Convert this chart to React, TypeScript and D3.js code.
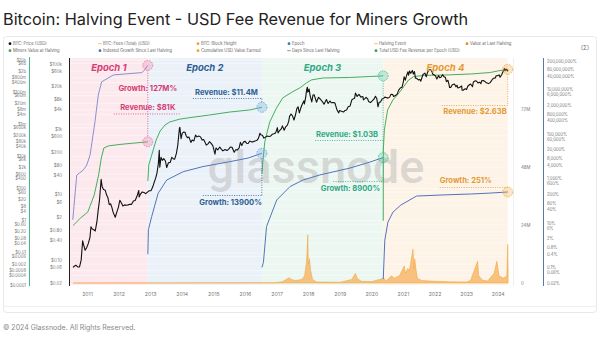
import React from "react";
import * as d3 from "d3";

// ---------------- DATA ----------------
const priceData: [string, number][] = [
["2010-07-18",0.06],["2010-08-01",0.065],["2010-08-20",0.07],["2010-09-10",0.062],["2010-10-01",0.062],["2010-10-20",0.10],["2010-11-06",0.39],["2010-11-20",0.28],["2010-12-05",0.20],["2010-12-25",0.25],
["2011-01-10",0.32],["2011-01-30",0.50],["2011-02-10",1.05],["2011-02-25",0.90],["2011-03-15",0.85],["2011-04-01",0.78],["2011-04-20",1.5],["2011-05-05",3.4],["2011-05-20",6.8],["2011-06-08",29.6],["2011-06-20",17.5],["2011-07-05",14.5],["2011-07-25",13.8],["2011-08-10",9.8],["2011-08-25",8.2],["2011-09-10",5.0],["2011-09-25",5.3],["2011-10-10",4.1],["2011-10-25",2.9],["2011-11-18",2.05],["2011-12-05",2.9],["2011-12-25",4.2],
["2012-01-10",6.8],["2012-01-25",5.8],["2012-02-15",4.5],["2012-03-05",4.9],["2012-03-25",4.8],["2012-04-15",4.9],["2012-05-05",5.1],["2012-05-25",5.1],["2012-06-15",6.4],["2012-07-05",6.7],["2012-07-25",8.8],["2012-08-16",13.5],["2012-08-20",8.5],["2012-09-05",10.5],["2012-09-25",12.2],["2012-10-15",11.8],["2012-11-05",10.8],["2012-11-28",12.3],["2012-12-15",13.3],
["2013-01-05",13.4],["2013-01-25",17.5],["2013-02-10",24],["2013-02-28",33],["2013-03-15",47],["2013-03-31",93],["2013-04-10",230],["2013-04-16",70],["2013-04-30",140],["2013-05-15",113],["2013-06-01",128],["2013-06-20",108],["2013-07-05",68],["2013-07-25",95],["2013-08-15",98],["2013-09-01",140],["2013-09-20",125],["2013-10-05",123],["2013-10-25",185],["2013-11-10",330],["2013-11-20",620],["2013-11-30",1130],["2013-12-04",1150],["2013-12-18",520],["2013-12-31",750],
["2014-01-15",830],["2014-02-01",820],["2014-02-15",640],["2014-03-01",560],["2014-03-20",580],["2014-04-10",400],["2014-04-25",470],["2014-05-15",445],["2014-06-03",670],["2014-06-20",590],["2014-07-10",625],["2014-07-30",590],["2014-08-18",470],["2014-09-05",490],["2014-09-22",400],["2014-10-05",330],["2014-10-25",360],["2014-11-12",420],["2014-12-01",375],["2014-12-20",320],
["2015-01-14",175],["2015-01-25",270],["2015-02-15",235],["2015-03-10",290],["2015-03-30",245],["2015-04-15",220],["2015-05-10",242],["2015-06-01",225],["2015-06-20",245],["2015-07-10",290],["2015-07-30",285],["2015-08-24",200],["2015-09-10",238],["2015-09-30",236],["2015-10-20",270],["2015-11-04",400],["2015-11-20",320],["2015-12-10",415],["2015-12-30",430],
["2016-01-15",375],["2016-02-01",370],["2016-02-20",440],["2016-03-10",415],["2016-03-30",415],["2016-04-20",440],["2016-05-10",455],["2016-05-30",530],["2016-06-17",760],["2016-07-01",670],["2016-07-15",660],["2016-08-02",540],["2016-08-20",580],["2016-09-10",625],["2016-09-30",608],["2016-10-20",630],["2016-11-05",705],["2016-11-25",735],["2016-12-15",780],
["2017-01-04",1130],["2017-01-12",780],["2017-01-30",920],["2017-02-20",1050],["2017-03-03",1280],["2017-03-24",940],["2017-04-10",1200],["2017-04-30",1350],["2017-05-15",1750],["2017-05-25",2500],["2017-06-11",2950],["2017-06-28",2580],["2017-07-15",1930],["2017-08-01",2750],["2017-08-17",4300],["2017-09-01",4900],["2017-09-15",3200],["2017-09-30",4340],["2017-10-20",5990],["2017-11-08",7450],["2017-11-12",5950],["2017-11-28",9700],["2017-12-08",16000],["2017-12-17",19500],["2017-12-22",13800],
["2018-01-06",17100],["2018-01-17",11000],["2018-02-06",6900],["2018-02-20",11200],["2018-03-05",11500],["2018-04-01",6800],["2018-04-25",9600],["2018-05-15",8500],["2018-06-01",7500],["2018-06-28",5900],["2018-07-25",8200],["2018-08-14",6200],["2018-09-04",7400],["2018-09-20",6500],["2018-10-15",6600],["2018-11-01",6350],["2018-11-25",3900],["2018-12-15",3200],["2018-12-25",3800],
["2019-01-15",3600],["2019-02-08",3400],["2019-02-25",3800],["2019-03-15",3900],["2019-04-03",4900],["2019-04-25",5200],["2019-05-14",7900],["2019-05-30",8600],["2019-06-15",8800],["2019-06-26",12900],["2019-07-15",10200],["2019-08-05",11800],["2019-08-28",9700],["2019-09-20",10100],["2019-09-26",8000],["2019-10-10",8600],["2019-10-26",9500],["2019-11-15",8500],["2019-11-25",7100],["2019-12-17",6600],
["2020-01-05",7400],["2020-01-25",8400],["2020-02-12",10300],["2020-02-28",8700],["2020-03-12",4900],["2020-03-25",6700],["2020-04-10",6900],["2020-04-30",8700],["2020-05-10",8600],["2020-05-30",9700],["2020-06-15",9400],["2020-07-05",9050],["2020-07-25",9700],["2020-08-10",11800],["2020-08-30",11700],["2020-09-08",10100],["2020-09-30",10800],["2020-10-20",12000],["2020-11-05",15600],["2020-11-25",18400],["2020-12-15",19400],["2020-12-31",29000],
["2021-01-08",40600],["2021-01-22",32000],["2021-02-08",46400],["2021-02-21",57500],["2021-02-28",45200],["2021-03-13",61200],["2021-03-25",51700],["2021-04-14",63500],["2021-04-25",49000],["2021-05-08",58800],["2021-05-19",37000],["2021-06-01",36700],["2021-06-22",32500],["2021-07-10",33800],["2021-07-20",29800],["2021-08-14",47800],["2021-09-06",52700],["2021-09-21",40700],["2021-10-06",55300],["2021-10-20",65900],["2021-11-10",68000],["2021-11-28",57200],["2021-12-04",49200],["2021-12-20",46700],
["2022-01-05",43400],["2022-01-22",35000],["2022-02-10",44000],["2022-02-24",38300],["2022-03-10",39400],["2022-03-28",47100],["2022-04-15",40500],["2022-05-01",38500],["2022-05-12",28900],["2022-05-30",31800],["2022-06-13",22500],["2022-06-18",19000],["2022-07-01",19300],["2022-07-20",23200],["2022-08-13",24400],["2022-08-31",20050],["2022-09-12",22400],["2022-09-21",18500],["2022-10-10",19100],["2022-11-05",21300],["2022-11-09",15900],["2022-11-21",15800],["2022-12-15",17400],["2022-12-31",16550],
["2023-01-14",20900],["2023-01-30",22800],["2023-02-16",24500],["2023-03-10",20200],["2023-03-20",28200],["2023-04-14",30500],["2023-04-30",29200],["2023-05-12",26300],["2023-05-30",27700],["2023-06-15",25000],["2023-06-23",30700],["2023-07-13",31400],["2023-07-30",29300],["2023-08-17",26600],["2023-09-11",25150],["2023-09-30",26970],["2023-10-23",33000],["2023-11-09",36700],["2023-11-30",37700],["2023-12-08",43800],["2023-12-25",43600],
["2024-01-11",46600],["2024-01-23",39500],["2024-02-10",47100],["2024-02-29",61200],["2024-03-14",73100],["2024-03-20",62000],["2024-04-01",69700],["2024-04-17",61300],["2024-04-24",66800]
];

// BTC fees (total, USD millions per day)
const feeMillions: [string, number][] = [
["2010-07-18",0],["2016-12-01",0.1],["2017-03-01",0.5],["2017-05-20",2.2],["2017-06-15",1.5],["2017-08-01",1.0],["2017-10-15",1.5],["2017-11-15",3],["2017-12-08",9],["2017-12-22",20],["2017-12-28",8],["2018-01-10",10],["2018-01-25",5],["2018-02-15",1.5],["2018-04-01",0.4],["2019-01-01",0.3],["2019-05-15",1.5],["2019-06-26",4],["2019-07-15",2],["2019-09-01",0.7],["2020-01-01",0.6],["2020-05-20",2],["2020-06-15",0.8],["2020-08-15",3],["2020-09-15",2],["2020-11-15",3],["2021-01-10",7],["2021-01-25",4],["2021-02-20",6],["2021-03-10",5],["2021-04-21",14],["2021-05-01",6],["2021-05-12",10],["2021-05-20",7],["2021-06-10",2],["2021-08-01",1],["2022-01-01",0.7],["2022-06-01",0.5],["2023-01-01",0.4],["2023-02-15",1],["2023-05-08",9],["2023-05-20",3],["2023-07-01",1.2],["2023-09-01",0.8],["2023-11-15",4],["2023-12-16",9],["2024-01-10",3],["2024-03-01",2],["2024-04-10",3],["2024-04-20",16],["2024-04-25",6]
];

// Cumulative USD fee revenue since last halving (per epoch)
const cumEpoch1: [string, number][] = [["2010-07-18",0.5],["2010-10-15",1.5],["2011-01-05",3.5],["2011-03-20",40],["2011-05-10",700],["2011-06-10",8000],["2011-07-10",34000],["2011-09-01",45000],["2012-01-01",55000],["2012-06-01",66000],["2012-11-28",81000]];
const cumEpoch2: [string, number][] = [["2012-11-29",300],["2012-12-10",3000],["2013-01-12",12000],["2013-03-05",105000],["2013-04-20",380000],["2013-06-15",900000],["2013-08-10",1.4e6],["2013-12-05",2.1e6],["2014-04-01",2.6e6],["2014-11-15",3.8e6],["2015-07-05",5.8e6],["2016-02-20",7.8e6],["2016-07-09",11.4e6]];
const cumEpoch3: [string, number][] = [["2016-07-10",800],["2016-07-20",4700],["2016-08-12",83000],["2016-10-08",1.4e6],["2016-12-24",10e6],["2017-03-08",44e6],["2017-07-01",107e6],["2017-09-20",182e6],["2017-12-06",375e6],["2018-02-02",575e6],["2018-06-13",760e6],["2019-04-20",820e6],["2019-12-01",930e6],["2020-05-11",1.03e9]];
const cumEpoch4: [string, number][] = [["2020-05-12",1],["2020-05-13",25000],["2020-05-25",450000],["2020-07-01",7.7e6],["2020-09-01",33e6],["2020-11-01",77e6],["2021-01-01",210e6],["2021-03-01",570e6],["2021-05-01",940e6],["2021-09-01",1.1e9],["2022-06-01",1.18e9],["2023-03-01",1.36e9],["2023-10-01",1.67e9],["2024-01-01",2.1e9],["2024-04-20",2.63e9]];

// Indexed growth since last halving (%)
const growthEpoch1: [string, number][] = [["2010-07-15",14],["2010-08-30",1450],["2010-11-14",2450],["2010-12-24",4150],["2011-01-31",11700],["2011-03-29",373000],["2011-05-06",5.9e6],["2011-06-14",23e6],["2011-10-27",47e6],["2012-09-20",60e6],["2012-10-25",80e6],["2012-11-28",127e6]];
const growthEpoch2: [string, number][] = [["2012-11-29",0.4],["2012-12-05",5],["2013-01-12",19.5],["2013-03-28",220],["2013-07-05",870],["2014-01-12",2070],["2014-08-28",3500],["2015-07-05",5850],["2016-02-01",8500],["2016-07-09",13900]];
const growthEpoch3: [string, number][] = [["2016-07-10",0.1],["2016-07-27",0.17],["2016-09-01",7],["2016-12-28",110],["2017-05-30",440],["2017-10-30",880],["2018-05-12",1480],["2019-04-22",3000],["2019-12-10",5600],["2020-05-11",8900]];
const growthEpoch4: [string, number][] = [["2020-05-12",0.03],["2020-05-30",1.7],["2020-07-05",11],["2020-09-01",31],["2020-12-01",65],["2021-06-01",165],["2022-04-01",185],["2023-03-01",205],["2023-10-01",225],["2024-04-20",251]];

const epochNames = ["Epoch 1", "Epoch 2", "Epoch 3", "Epoch 4"];
const halvingDates = ["2012-11-28", "2016-07-09", "2020-05-11", "2024-04-20"];
const revenueValues = [81e3, 11.4e6, 1.03e9, 2.63e9];
const revenueLabels = ["Revenue: $81K", "Revenue: $11.4M", "Revenue: $1.03B", "Revenue: $2.63B"];
const growthValues = [127e6, 13900, 8900, 251];
const growthLabels = ["Growth: 127M%", "Growth: 13900%", "Growth: 8900%", "Growth: 251%"];

const years = [2011, 2012, 2013, 2014, 2015, 2016, 2017, 2018, 2019, 2020, 2021, 2022, 2023, 2024];

const priceTicks = [1e5, 6e4, 2e4, 8e3, 4e3, 1e3, 600, 200, 80, 40, 10, 6, 2, 0.8, 0.4, 0.1, 0.06, 0.02];
const priceTickLabels = ["$100k","$60k","$20k","$8k","$4k","$1k","$600","$200","$80","$40","$10","$6","$2","$0.80","$0.40","$0.10","$0.06","$0.02"];

const cumTicks = [1e10,6e9,2e9,8e8,4e8,1e8,6e7,2e7,8e6,4e6,1e6,6e5,2e5,8e4,4e4,1e4,6e3,2e3,800,400,100,60,20,8,4,1,0.6,0.2,0.08,0.04,0.01,0.006,0.002,0.0008,0.0004,0.0001];
const cumTickLabels = ["$10b","$6b","$2b","$800m","$400m","$100m","$60m","$20m","$8m","$4m","$1m","$600k","$200k","$80k","$40k","$10k","$6k","$2k","$800","$400","$100","$60","$20","$8","$4","$1","$0.60","$0.20","$0.08","$0.04","$0.01","$0.006","$0.002","$0.0008","$0.0004","$0.0001"];

const pctTicks = [2e8,8e7,4e7,1e7,6e6,2e6,8e5,4e5,1e5,6e4,2e4,8e3,4e3,1e3,600,200,80,40,10,6,2,0.8,0.4,0.1,0.06,0.02];
const pctTickLabels = ["200,000,000%","80,000,000%","40,000,000%","10,000,000%","6,000,000%","2,000,000%","800,000%","400,000%","100,000%","60,000%","20,000%","8,000%","4,000%","1,000%","600%","200%","80%","40%","10%","6%","2%","0.8%","0.4%","0.1%","0.06%","0.02%"];

const feeTicks = [0, 24e6, 48e6, 72e6];
const feeTickLabels = ["0", "24M", "48M", "72M"];

const legendRow1 = ["BTC: Price (USD)", "BTC: Fees (Total) (USD)", "BTC: Block Height", "Epoch", "Halving Event", "Value at Last Halving"];
const legendRow2 = ["Miners Value at Halving", "Indexed Growth Since Last Halving", "Cumulative USD Value Earned", "Days Since Last Halving", "Total USD Fee Revenue per Epoch (USD)"];

// ---------------- STYLE ----------------
const FONT = "Inter, Roboto, 'Noto Sans', sans-serif";
const epochBg = ["#fce9ee", "#ebf1f9", "#ecf7f2", "#fdf3e7"];
const epochText = ["#d63d74", "#2d5f92", "#2fa985", "#e39a35"];
const epochMark = ["#ec7aa3", "#6aa6dc", "#48c2a0", "#f2ab4c"];
const growthColor = ["#8c8fd0", "#5275b9", "#5275b9", "#5272bd"];
const legendRow1Style = [{ c: "#111", t: "dot" }, { c: "#f5c27a", t: "line" }, { c: "#f0a030", t: "dot" }, { c: "#2a7fb8", t: "dot" }, { c: "#f5c06a", t: "line" }, { c: "#e08a2e", t: "dot" }];
const legendRow2Style = [{ c: "#3aa55a", t: "dot" }, { c: "#4a6fb0", t: "dot" }, { c: "#f0a030", t: "dot" }, { c: "#999", t: "line" }, { c: "#2e9e5a", t: "dot" }];
const legendX1 = [10, 100, 198, 289, 376, 467];
const legendX2 = [10, 100, 198, 289, 376];

const parse = d3.timeParse("%Y-%m-%d");
const P = (s: string) => parse(s) as Date;

export default function App() {
  const left = 70, right = 513, top = 58, bottom = 285;
  const x = d3.scaleTime().domain([P("2010-06-13"), P("2024-06-20")]).range([left, right]);
  const yCum = d3.scaleLog().domain([1e-4, 1e10]).range([285, 60]);
  const yPrice = d3.scaleLog().domain([0.02, 1e5]).range([283, 64]);
  const yPct = d3.scaleLog().domain([0.02, 2e8]).range([283, 61]);
  const yFee = d3.scaleLinear().domain([0, 72e6]).range([283, 109]);

  const priceLine = d3.line<[string, number]>().x(d => x(P(d[0]))).y(d => yPrice(d[1]));
  const cumLine = d3.line<[string, number]>().x(d => x(P(d[0]))).y(d => yCum(d[1]));
  const pctLine = d3.line<[string, number]>().x(d => x(P(d[0]))).y(d => yPct(d[1]));
  const feeArea = d3.area<[string, number]>().x(d => x(P(d[0]))).y0(yFee(0)).y1(d => yFee(d[1] * 1e6));

  const bounds = [P("2010-06-13"), ...halvingDates.map(P)];
  const cumSeries = [cumEpoch1, cumEpoch2, cumEpoch3, cumEpoch4];
  const growthSeries = [growthEpoch1, growthEpoch2, growthEpoch3, growthEpoch4];

  const hx = halvingDates.map(d => x(P(d)));
  const rc = revenueValues.map(v => yCum(v));
  const gc = growthValues.map(v => yPct(v));

  const dot = { strokeDasharray: "1 1.4", strokeWidth: 0.8, fill: "none" } as const;
  const annFont = { fontFamily: FONT, fontSize: 7.6, fontWeight: 700 } as const;

  return (
    <div style={{ position: "absolute", left: 0, top: 0, width: 600, height: 340, background: "#fff" }}>
      <svg width={600} height={340} style={{ display: "block" }}>
        <defs>
          <clipPath id="plotClip"><rect x={left} y={top} width={right - left} height={bottom - top} /></clipPath>
        </defs>
        <text x={3} y={25} fontFamily={FONT} fontSize={16.3} fill="#222">Bitcoin: Halving Event - USD Fee Revenue for Miners Growth</text>
        <rect x={3.5} y={36.5} width={593} height={276} rx={3} fill="#fff" stroke="#e8e8e8" />
        <line x1={4} x2={596} y1={306.5} y2={306.5} stroke="#efefef" />

        {/* legend */}
        {legendRow1.map((t, i) => (
          <g key={"l1" + i} transform={`translate(${legendX1[i]},45)`}>
            {legendRow1Style[i].t === "dot" ? <circle cx={0} cy={-1.3} r={1.4} fill={legendRow1Style[i].c} /> : <line x1={-1.8} x2={1.8} y1={-1.3} y2={-1.3} stroke={legendRow1Style[i].c} strokeWidth={1} />}
            <text x={3} y={0} fontFamily={FONT} fontSize={4.2} fill="#666">{t}</text>
          </g>
        ))}
        {legendRow2.map((t, i) => (
          <g key={"l2" + i} transform={`translate(${legendX2[i]},52)`}>
            {legendRow2Style[i].t === "dot" ? <circle cx={0} cy={-1.3} r={1.4} fill={legendRow2Style[i].c} /> : <line x1={-1.8} x2={1.8} y1={-1.3} y2={-1.3} stroke={legendRow2Style[i].c} strokeWidth={1} />}
            <text x={3} y={0} fontFamily={FONT} fontSize={4.2} fill="#666">{t}</text>
          </g>
        ))}
        <text x={585} y={50} fontFamily={FONT} fontSize={6} fill="#777" textAnchor="middle">(Σ)</text>

        {/* epoch backgrounds */}
        {epochBg.map((c, i) => (
          <rect key={"bg" + i} x={x(bounds[i])} y={top} width={x(bounds[i + 1]) - x(bounds[i])} height={bottom - top} fill={c} />
        ))}
        {/* gridlines */}
        {cumTicks.map((t, i) => (
          <line key={"g" + i} x1={left} x2={right} y1={yCum(t)} y2={yCum(t)} stroke="#ffffff" strokeOpacity={0.7} strokeWidth={0.6} />
        ))}

        {/* watermark */}
        <text x={316} y={183} textAnchor="middle" fontFamily="Roboto, Inter, sans-serif" fontWeight={500} fontSize={47} fill="#bdbdbd" fillOpacity={0.55}>glassnode</text>

        <g clipPath="url(#plotClip)">
          <path d={feeArea(feeMillions) || ""} fill="#f6b463" fillOpacity={0.8} stroke="#f0a030" strokeWidth={0.5} />
          {growthSeries.map((s, i) => (
            <path key={"gr" + i} d={pctLine(s) || ""} fill="none" stroke={growthColor[i]} strokeWidth={1} />
          ))}
          {cumSeries.map((s, i) => (
            <path key={"cu" + i} d={cumLine(s) || ""} fill="none" stroke="#46ad5c" strokeWidth={1} />
          ))}
          <path d={priceLine(priceData) || ""} fill="none" stroke="#111" strokeWidth={1.1} strokeLinejoin="round" />
        </g>

        {/* axes lines */}
        <line x1={29.5} x2={29.5} y1={57} y2={286} stroke="#48b783" strokeWidth={1} />
        <line x1={69.5} x2={69.5} y1={58} y2={286} stroke="#222" strokeWidth={1} />
        <line x1={543.5} x2={543.5} y1={58} y2={286} stroke="#5a76ad" strokeWidth={1} />
        <line x1={right + 0.5} x2={right + 0.5} y1={58} y2={286} stroke="#e4e4e4" strokeWidth={0.6} />

        {cumTicks.map((t, i) => (
          <text key={"ct" + i} x={26} y={yCum(t) + 1.5} textAnchor="end" fontFamily={FONT} fontSize={4.2} fill="#777">{cumTickLabels[i]}</text>
        ))}
        {priceTicks.map((t, i) => (
          <text key={"pt" + i} x={62} y={yPrice(t) + 1.5} textAnchor="end" fontFamily={FONT} fontSize={4.4} fill="#777">{priceTickLabels[i]}</text>
        ))}
        {pctTicks.map((t, i) => (
          <text key={"qt" + i} x={547} y={yPct(t) + 1.5} fontFamily={FONT} fontSize={4.2} fill="#777">{pctTickLabels[i]}</text>
        ))}
        {feeTicks.map((t, i) => (
          <text key={"ft" + i} x={521} y={yFee(t) + 1.5} fontFamily={FONT} fontSize={4.4} fill="#777">{feeTickLabels[i]}</text>
        ))}
        {years.map(yv => (
          <text key={"y" + yv} x={x(new Date(yv, 0, 1))} y={296} textAnchor="middle" fontFamily={FONT} fontSize={5.2} fill="#777">{yv}</text>
        ))}

        {/* epoch titles */}
        {epochNames.map((n, i) => (
          <text key={"en" + i} x={(x(bounds[i]) + x(bounds[i + 1])) / 2} y={71} textAnchor="middle" fontFamily={FONT} fontSize={9.5} fontWeight={700} fontStyle="italic" fill={epochText[i]}>{n}</text>
        ))}

        {/* annotations: epoch 1 */}
        <g stroke={epochText[0]}>
          <line {...dot} x1={hx[0]} x2={hx[0]} y1={gc[0] + 5} y2={rc[0] - 5} />
          <line {...dot} x1={hx[0] - 34} x2={hx[0] + 32} y1={114} y2={114} />
        </g>
        <text x={hx[0]} y={91} textAnchor="middle" {...annFont} fill={epochText[0]}>{growthLabels[0]}</text>
        <text x={hx[0]} y={110} textAnchor="middle" {...annFont} fill={epochText[0]}>{revenueLabels[0]}</text>

        {/* epoch 2 */}
        <g stroke={epochText[1]}>
          <line {...dot} x1={hx[1] - 69} x2={hx[1]} y1={98.5} y2={98.5} />
          <line {...dot} x1={hx[1]} x2={hx[1]} y1={98.5} y2={rc[1] - 5} />
          <line {...dot} x1={hx[1] - 59} x2={hx[1]} y1={195.5} y2={195.5} />
          <line {...dot} x1={hx[1]} x2={hx[1]} y1={gc[1] + 5} y2={195.5} />
        </g>
        <text x={hx[1] - 4} y={95} textAnchor="end" {...annFont} fill={epochText[1]}>{revenueLabels[1]}</text>
        <text x={hx[1]} y={205} textAnchor="end" {...annFont} fill={epochText[1]}>{growthLabels[1]}</text>

        {/* epoch 3 */}
        <g stroke={epochText[2]}>
          <line {...dot} x1={hx[2]} x2={hx[2]} y1={rc[2] + 5} y2={gc[2] - 5} />
          <line {...dot} x1={hx[2]} x2={hx[2]} y1={gc[2] + 5} y2={181.5} />
          <line {...dot} x1={hx[2] - 68} x2={hx[2]} y1={140.5} y2={140.5} />
          <line {...dot} x1={hx[2] - 50} x2={hx[2]} y1={181.5} y2={181.5} />
        </g>
        <text x={hx[2] - 5} y={137} textAnchor="end" {...annFont} fill={epochText[2]}>{revenueLabels[2]}</text>
        <text x={hx[2] - 3} y={191} textAnchor="end" {...annFont} fill={epochText[2]}>{growthLabels[2]}</text>

        {/* epoch 4 */}
        <g stroke={epochText[3]}>
          <line {...dot} x1={hx[3]} x2={hx[3]} y1={rc[3] + 5} y2={105.5} />
          <line {...dot} x1={hx[3] - 66} x2={hx[3]} y1={105.5} y2={105.5} />
          <line {...dot} x1={hx[3] - 68} x2={hx[3]} y1={187.5} y2={187.5} />
          <line {...dot} x1={hx[3]} x2={hx[3]} y1={187.5} y2={gc[3] - 5} />
        </g>
        <text x={hx[3] - 1} y={114} textAnchor="end" {...annFont} fill={epochText[3]}>{revenueLabels[3]}</text>
        <text x={hx[3] - 68} y={183} {...annFont} fill={epochText[3]}>{growthLabels[3]}</text>

        {/* markers */}
        {hx.map((hxv, i) => (
          <g key={"m" + i}>
            <circle cx={hxv} cy={rc[i]} r={5} fill={epochMark[i]} fillOpacity={0.3} stroke={epochMark[i]} strokeWidth={0.9} strokeDasharray="1.5 1.2" />
            <circle cx={hxv} cy={gc[i]} r={5} fill={epochMark[i]} fillOpacity={0.3} stroke={epochMark[i]} strokeWidth={0.9} strokeDasharray="1.5 1.2" />
          </g>
        ))}

        <text x={3} y={330} fontFamily={FONT} fontSize={7} fill="#888">© 2024 Glassnode. All Rights Reserved.</text>
      </svg>
    </div>
  );
}
